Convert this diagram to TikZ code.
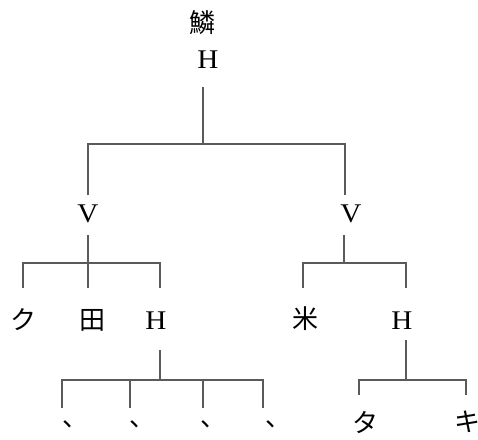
\documentclass[tikz,border=0pt]{standalone}
\usepackage{graphicx}
\usepackage{fontspec}
\setmainfont{Liberation Serif}
\newfontfamily\cjk{Noto Sans CJK JP}
\definecolor{edgegray}{HTML}{5A5A5A}
\newcommand{\wideltr}[1]{\scalebox{1.08}[1]{#1}}
\begin{document}
\begin{tikzpicture}[x=1pt,y=-1pt,
  lat/.style={inner sep=0pt,font=\fontsize{27}{27}\selectfont},
  jp/.style={inner sep=0pt,font=\cjk\fontsize{26}{26}\selectfont},
  edge/.style={draw=edgegray,line width=1.5pt,line cap=butt,line join=miter}]
\useasboundingbox (0,0) rectangle (478,439);
% labels
\node[jp]  (rin) at (202,23) {鱗};
\node[lat] (h0)  at (208,60) {\wideltr{H}};
\node[lat] (v1)  at (88,214) {\wideltr{V}};
\node[lat] (v2)  at (351,214) {\wideltr{V}};
\node[jp]  (ku)  at (23,320) {ク};
\node[jp]  (ta)  at (92,320) {田};
\node[lat] (h1)  at (156,321) {\wideltr{H}};
\node[jp]  (kome) at (305,319) {米};
\node[lat] (h2)  at (402,321) {\wideltr{H}};
\node[jp]  (c1) at (75,424) {、};
\node[jp]  (c2) at (142,424) {、};
\node[jp]  (c3) at (213,424) {、};
\node[jp]  (c4) at (278,424) {、};
\node[jp]  (tt) at (365,422) {タ};
\node[jp]  (ki) at (467,422) {キ};
% junction coordinates
\coordinate (a0) at (203,87);  \coordinate (b0) at (203,144);
\coordinate (l0) at (88,144);  \coordinate (r0) at (345,144);
\coordinate (e0l) at (88,195); \coordinate (e0r) at (345,195);
\coordinate (a1) at (88,235);  \coordinate (b1) at (88,263);
\coordinate (l1) at (23,263);  \coordinate (r1) at (160,263);
\coordinate (e1l) at (23,288); \coordinate (e1m) at (88,288); \coordinate (e1r) at (160,288);
\coordinate (a2) at (344,235); \coordinate (b2) at (344,263);
\coordinate (l2) at (303,263); \coordinate (r2) at (406,263);
\coordinate (e2l) at (303,288); \coordinate (e2r) at (406,288);
\coordinate (a3) at (160,350); \coordinate (b3) at (160,380);
\coordinate (l3) at (62,380);  \coordinate (m3a) at (130,380); \coordinate (m3b) at (203,380); \coordinate (r3) at (263,380);
\coordinate (e3a) at (62,408); \coordinate (e3b) at (130,408); \coordinate (e3c) at (203,408); \coordinate (e3d) at (263,408);
\coordinate (a4) at (406,340); \coordinate (b4) at (406,380);
\coordinate (l4) at (359,380); \coordinate (r4) at (466,380);
\coordinate (e4l) at (359,395); \coordinate (e4r) at (466,395);
% connectors
\draw[edge] (a0) -- (b0);
\draw[edge] (e0l) -- (l0) -- (r0) -- (e0r);
\draw[edge] (a1) -- (b1);
\draw[edge] (e1l) -- (l1) -- (r1) -- (e1r);
\draw[edge] (b1) -- (e1m);
\draw[edge] (a2) -- (b2);
\draw[edge] (e2l) -- (l2) -- (r2) -- (e2r);
\draw[edge] (a3) -- (b3);
\draw[edge] (e3a) -- (l3) -- (r3) -- (e3d);
\draw[edge] (m3a) -- (e3b);
\draw[edge] (m3b) -- (e3c);
\draw[edge] (a4) -- (b4);
\draw[edge] (e4l) -- (l4) -- (r4) -- (e4r);
\end{tikzpicture}
\end{document}
